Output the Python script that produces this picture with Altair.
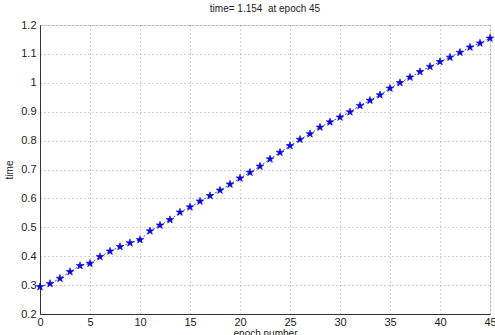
import altair as alt
import pandas as pd

epochs = list(range(0, 46))
times = [0.294, 0.305, 0.323, 0.346, 0.367, 0.375, 0.398, 0.417, 0.433, 0.446,
         0.457, 0.487, 0.507, 0.526, 0.552, 0.570, 0.590, 0.609, 0.628, 0.649,
         0.670, 0.690, 0.711, 0.736, 0.759, 0.782, 0.804, 0.823, 0.846, 0.864,
         0.881, 0.899, 0.921, 0.939, 0.958, 0.981, 1.000, 1.019, 1.038, 1.056,
         1.073, 1.088, 1.105, 1.123, 1.137, 1.154]
x_ticks = [0, 5, 10, 15, 20, 25, 30, 35, 40, 45]
y_ticks = [0.2, 0.3, 0.4, 0.5, 0.6, 0.7, 0.8, 0.9, 1.0, 1.1, 1.2]
title_text = "time= 1.154\u00a0 at epoch 45"

df = pd.DataFrame({"epoch": epochs, "time": times})

FONT = "Liberation Sans"
STAR = ("M0,-1 L0.2245,-0.309 L0.951,-0.309 L0.363,0.118 L0.588,0.809 "
        "L0,0.382 L-0.588,0.809 L-0.363,0.118 L-0.951,-0.309 L-0.2245,-0.309 Z")

x_enc = alt.X("epoch:Q", scale=alt.Scale(domain=[0, 45], nice=False, zero=False),
              axis=alt.Axis(values=x_ticks, title="epoch number", grid=True,
                            gridDash=[1, 3], gridColor="#666666", gridOpacity=0.6,
                            ticks=False, domainColor="#333333",
                            labelFont=FONT, labelFontSize=11, labelColor="#222222",
                            labelPadding=2, titleFont=FONT, titleFontSize=10,
                            titleFontWeight="normal", titleColor="#222222",
                            titlePadding=1, labelFlush=False))
y_enc = alt.Y("time:Q", scale=alt.Scale(domain=[0.2, 1.2], nice=False, zero=False),
              axis=alt.Axis(values=y_ticks, format=".1~f", title="time", grid=True,
                            gridDash=[1, 3], gridColor="#666666", gridOpacity=0.6,
                            ticks=False, domainColor="#333333",
                            labelFont=FONT, labelFontSize=11, labelColor="#222222",
                            labelPadding=4, titleFont=FONT, titleFontSize=10,
                            titleFontWeight="normal", titleColor="#222222",
                            titlePadding=6, labelFlush=False))

base = alt.Chart(df).encode(x=x_enc, y=y_enc)

line = base.mark_line(color="#4444cc", strokeDash=[2, 2], strokeWidth=1)
pts = base.mark_point(shape=STAR, size=64, filled=True, color="#0000ff",
                      stroke="#0000cc", strokeWidth=0.6, opacity=1)

chart = (line + pts).properties(
    width=450, height=289,
    title=alt.Title(title_text, font=FONT, fontSize=10, fontWeight="normal",
                    color="#222222", anchor="middle", offset=5),
    autosize=alt.AutoSizeParams(type="none"),
    padding={"left": 40, "top": 25, "right": 5, "bottom": 21},
).configure_view(stroke="#333333", strokeWidth=1).configure(background="white")

chart.save("out.html", embed_options={"renderer": "svg", "actions": False})
